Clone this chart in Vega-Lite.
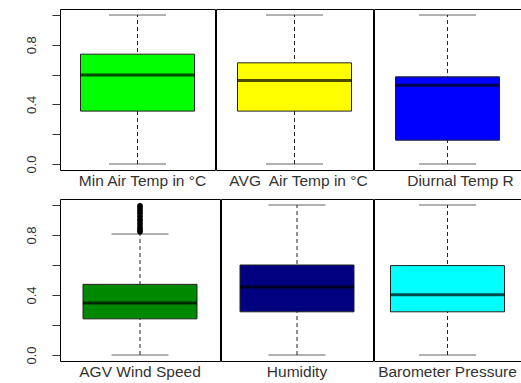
{
  "$schema": "https://vega.github.io/schema/vega-lite/v6.json",
  "padding": {"left": 24, "top": 8, "right": 0, "bottom": 0},
  "background": "white",
  "config": {
    "view": {"stroke": "#000", "strokeWidth": 1},
    "font": "Liberation Sans",
    "axis": {"labelFont": "Liberation Sans", "labelColor": "#333"},
    "axisY": {"values": [0, 0.2, 0.4, 0.6, 0.8, 1.0], "labelExpr": "round(datum.value*10) % 4 == 0 ? format(datum.value, '.1f') : ''", "labelAngle": -90, "labelFontSize": 13, "tickSize": 8, "tickColor": "#333", "domain": false, "grid": false, "labelPadding": 14, "title": null},
    "axisX": {"ticks": false, "domain": false, "labelAngle": 0, "labelFontSize": 15.5, "labelPadding": 3, "labelLimit": 0, "title": null}
  },
  "data": {"values": [
    {"name": "Min Air Temp in °C", "kind": "box", "min": 0, "q1": 0.355, "median": 0.598, "q3": 0.737, "max": 1},
    {"name": "AVG\u00a0 Air Temp in °C", "kind": "box", "min": 0, "q1": 0.355, "median": 0.56, "q3": 0.679, "max": 1},
    {"name": "Diurnal Temp R", "kind": "box", "min": 0, "q1": 0.16, "median": 0.528, "q3": 0.585, "max": 1},
    {"name": "AGV Wind Speed", "kind": "box", "min": 0, "q1": 0.241, "median": 0.346, "q3": 0.471, "max": 0.806},
    {"name": "Humidity", "kind": "box", "min": 0, "q1": 0.288, "median": 0.453, "q3": 0.6, "max": 1},
    {"name": "Barometer Pressure", "kind": "box", "min": 0, "q1": 0.288, "median": 0.402, "q3": 0.596, "max": 1},
    {"name": "AGV Wind Speed", "kind": "out", "value": 0.822},
    {"name": "AGV Wind Speed", "kind": "out", "value": 0.835},
    {"name": "AGV Wind Speed", "kind": "out", "value": 0.85},
    {"name": "AGV Wind Speed", "kind": "out", "value": 0.868},
    {"name": "AGV Wind Speed", "kind": "out", "value": 0.887},
    {"name": "AGV Wind Speed", "kind": "out", "value": 0.905},
    {"name": "AGV Wind Speed", "kind": "out", "value": 0.925},
    {"name": "AGV Wind Speed", "kind": "out", "value": 0.945},
    {"name": "AGV Wind Speed", "kind": "out", "value": 0.962},
    {"name": "AGV Wind Speed", "kind": "out", "value": 0.98},
    {"name": "AGV Wind Speed", "kind": "out", "value": 0.995}
  ]},
  "spacing": 9,
  "vconcat": [
    {
      "spacing": 1,
      "bounds": "flush",
      "hconcat": [
        {
          "width": 155, "height": 161,
          "transform": [{"filter": "datum.name == 'Min Air Temp in °C'"}],
          "encoding": {"x": {"field": "name", "type": "nominal", "scale": {"paddingInner": 0, "paddingOuter": 0}, "axis": {"labelOffset": 5}}},
          "layer": [
            {"transform": [{"filter": "datum.kind == 'box'"}], "mark": {"type": "rule", "color": "#222", "strokeDash": [4, 3]}, "encoding": {"y": {"field": "min", "type": "quantitative", "title": null, "scale": {"domain": [-0.04, 1.04], "nice": false, "zero": false}}, "y2": {"field": "max"}}},
            {"transform": [{"filter": "datum.kind == 'box'"}], "mark": {"type": "tick", "color": "#222", "size": 57, "thickness": 1}, "encoding": {"y": {"field": "min", "type": "quantitative", "title": null}}},
            {"transform": [{"filter": "datum.kind == 'box'"}], "mark": {"type": "tick", "color": "#222", "size": 57, "thickness": 1}, "encoding": {"y": {"field": "max", "type": "quantitative", "title": null}}},
            {"transform": [{"filter": "datum.kind == 'box'"}], "mark": {"type": "bar", "width": 114, "fill": "#00FF00", "stroke": "#222", "strokeWidth": 1}, "encoding": {"y": {"field": "q1", "type": "quantitative", "title": null}, "y2": {"field": "q3"}}},
            {"transform": [{"filter": "datum.kind == 'box'"}], "mark": {"type": "tick", "color": "#000", "size": 114, "thickness": 3}, "encoding": {"y": {"field": "median", "type": "quantitative", "title": null}}}
          ]
        },
        {
          "width": 157, "height": 161,
          "transform": [{"filter": "datum.name == 'AVG\u00a0 Air Temp in °C'"}],
          "encoding": {"x": {"field": "name", "type": "nominal", "scale": {"paddingInner": 0, "paddingOuter": 0}, "axis": {"labelOffset": 4}}},
          "layer": [
            {"transform": [{"filter": "datum.kind == 'box'"}], "mark": {"type": "rule", "color": "#222", "strokeDash": [4, 3]}, "encoding": {"y": {"field": "min", "type": "quantitative", "title": null, "scale": {"domain": [-0.04, 1.04], "nice": false, "zero": false}, "axis": null}, "y2": {"field": "max"}}},
            {"transform": [{"filter": "datum.kind == 'box'"}], "mark": {"type": "tick", "color": "#222", "size": 57, "thickness": 1}, "encoding": {"y": {"field": "min", "type": "quantitative", "title": null, "axis": null}}},
            {"transform": [{"filter": "datum.kind == 'box'"}], "mark": {"type": "tick", "color": "#222", "size": 57, "thickness": 1}, "encoding": {"y": {"field": "max", "type": "quantitative", "title": null, "axis": null}}},
            {"transform": [{"filter": "datum.kind == 'box'"}], "mark": {"type": "bar", "width": 114, "fill": "#FFFF00", "stroke": "#222", "strokeWidth": 1}, "encoding": {"y": {"field": "q1", "type": "quantitative", "title": null, "axis": null}, "y2": {"field": "q3"}}},
            {"transform": [{"filter": "datum.kind == 'box'"}], "mark": {"type": "tick", "color": "#000", "size": 114, "thickness": 3}, "encoding": {"y": {"field": "median", "type": "quantitative", "title": null, "axis": null}}}
          ]
        },
        {
          "width": 147, "height": 161,
          "transform": [{"filter": "datum.name == 'Diurnal Temp R'"}],
          "encoding": {"x": {"field": "name", "type": "nominal", "scale": {"paddingInner": 0, "paddingOuter": 0}, "axis": {"labelOffset": 13}}},
          "layer": [
            {"transform": [{"filter": "datum.kind == 'box'"}], "mark": {"type": "rule", "color": "#222", "strokeDash": [4, 3]}, "encoding": {"y": {"field": "min", "type": "quantitative", "title": null, "scale": {"domain": [-0.04, 1.04], "nice": false, "zero": false}, "axis": null}, "y2": {"field": "max"}}},
            {"transform": [{"filter": "datum.kind == 'box'"}], "mark": {"type": "tick", "color": "#222", "size": 57, "thickness": 1}, "encoding": {"y": {"field": "min", "type": "quantitative", "title": null, "axis": null}}},
            {"transform": [{"filter": "datum.kind == 'box'"}], "mark": {"type": "tick", "color": "#222", "size": 57, "thickness": 1}, "encoding": {"y": {"field": "max", "type": "quantitative", "title": null, "axis": null}}},
            {"transform": [{"filter": "datum.kind == 'box'"}], "mark": {"type": "bar", "width": 104, "fill": "#0000FF", "stroke": "#222", "strokeWidth": 1}, "encoding": {"y": {"field": "q1", "type": "quantitative", "title": null, "axis": null}, "y2": {"field": "q3"}}},
            {"transform": [{"filter": "datum.kind == 'box'"}], "mark": {"type": "tick", "color": "#000", "size": 104, "thickness": 3}, "encoding": {"y": {"field": "median", "type": "quantitative", "title": null, "axis": null}}}
          ]
        }
      ]
    },
    {
      "spacing": 1,
      "bounds": "flush",
      "hconcat": [
        {
          "width": 160, "height": 162,
          "transform": [{"filter": "datum.name == 'AGV Wind Speed'"}],
          "encoding": {"x": {"field": "name", "type": "nominal", "scale": {"paddingInner": 0, "paddingOuter": 0}}},
          "layer": [
            {"transform": [{"filter": "datum.kind == 'box'"}], "mark": {"type": "rule", "color": "#222", "strokeDash": [4, 3]}, "encoding": {"y": {"field": "min", "type": "quantitative", "title": null, "scale": {"domain": [-0.04, 1.04], "nice": false, "zero": false}}, "y2": {"field": "max"}}},
            {"transform": [{"filter": "datum.kind == 'box'"}], "mark": {"type": "tick", "color": "#222", "size": 57, "thickness": 1}, "encoding": {"y": {"field": "min", "type": "quantitative", "title": null}}},
            {"transform": [{"filter": "datum.kind == 'box'"}], "mark": {"type": "tick", "color": "#222", "size": 57, "thickness": 1}, "encoding": {"y": {"field": "max", "type": "quantitative", "title": null}}},
            {"transform": [{"filter": "datum.kind == 'box'"}], "mark": {"type": "bar", "width": 114, "fill": "#008800", "stroke": "#222", "strokeWidth": 1}, "encoding": {"y": {"field": "q1", "type": "quantitative", "title": null}, "y2": {"field": "q3"}}},
            {"transform": [{"filter": "datum.kind == 'box'"}], "mark": {"type": "tick", "color": "#000", "size": 114, "thickness": 3}, "encoding": {"y": {"field": "median", "type": "quantitative", "title": null}}},
            {"transform": [{"filter": "datum.kind == 'out'"}], "mark": {"type": "circle", "color": "#000", "size": 32, "opacity": 1}, "encoding": {"y": {"field": "value", "type": "quantitative", "title": null}}}
          ]
        },
        {
          "width": 152, "height": 162,
          "transform": [{"filter": "datum.name == 'Humidity'"}],
          "encoding": {"x": {"field": "name", "type": "nominal", "scale": {"paddingInner": 0, "paddingOuter": 0}}},
          "layer": [
            {"transform": [{"filter": "datum.kind == 'box'"}], "mark": {"type": "rule", "color": "#222", "strokeDash": [4, 3]}, "encoding": {"y": {"field": "min", "type": "quantitative", "title": null, "scale": {"domain": [-0.04, 1.04], "nice": false, "zero": false}, "axis": null}, "y2": {"field": "max"}}},
            {"transform": [{"filter": "datum.kind == 'box'"}], "mark": {"type": "tick", "color": "#222", "size": 57, "thickness": 1}, "encoding": {"y": {"field": "min", "type": "quantitative", "title": null, "axis": null}}},
            {"transform": [{"filter": "datum.kind == 'box'"}], "mark": {"type": "tick", "color": "#222", "size": 57, "thickness": 1}, "encoding": {"y": {"field": "max", "type": "quantitative", "title": null, "axis": null}}},
            {"transform": [{"filter": "datum.kind == 'box'"}], "mark": {"type": "bar", "width": 114, "fill": "#000080", "stroke": "#222", "strokeWidth": 1}, "encoding": {"y": {"field": "q1", "type": "quantitative", "title": null, "axis": null}, "y2": {"field": "q3"}}},
            {"transform": [{"filter": "datum.kind == 'box'"}], "mark": {"type": "tick", "color": "#000", "size": 114, "thickness": 3}, "encoding": {"y": {"field": "median", "type": "quantitative", "title": null, "axis": null}}}
          ]
        },
        {
          "width": 147, "height": 162,
          "transform": [{"filter": "datum.name == 'Barometer Pressure'"}],
          "encoding": {"x": {"field": "name", "type": "nominal", "scale": {"paddingInner": 0, "paddingOuter": 0}}},
          "layer": [
            {"transform": [{"filter": "datum.kind == 'box'"}], "mark": {"type": "rule", "color": "#222", "strokeDash": [4, 3]}, "encoding": {"y": {"field": "min", "type": "quantitative", "title": null, "scale": {"domain": [-0.04, 1.04], "nice": false, "zero": false}, "axis": null}, "y2": {"field": "max"}}},
            {"transform": [{"filter": "datum.kind == 'box'"}], "mark": {"type": "tick", "color": "#222", "size": 57, "thickness": 1}, "encoding": {"y": {"field": "min", "type": "quantitative", "title": null, "axis": null}}},
            {"transform": [{"filter": "datum.kind == 'box'"}], "mark": {"type": "tick", "color": "#222", "size": 57, "thickness": 1}, "encoding": {"y": {"field": "max", "type": "quantitative", "title": null, "axis": null}}},
            {"transform": [{"filter": "datum.kind == 'box'"}], "mark": {"type": "bar", "width": 114, "fill": "#00FFFF", "stroke": "#222", "strokeWidth": 1}, "encoding": {"y": {"field": "q1", "type": "quantitative", "title": null, "axis": null}, "y2": {"field": "q3"}}},
            {"transform": [{"filter": "datum.kind == 'box'"}], "mark": {"type": "tick", "color": "#000", "size": 114, "thickness": 3}, "encoding": {"y": {"field": "median", "type": "quantitative", "title": null, "axis": null}}}
          ]
        }
      ]
    }
  ]
}
